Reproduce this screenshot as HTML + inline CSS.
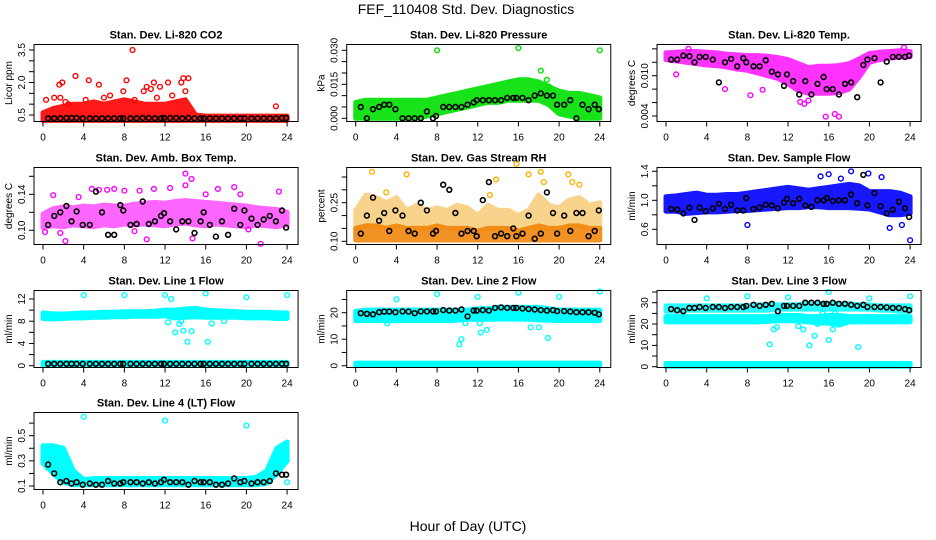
<!DOCTYPE html>
<html><head><meta charset="utf-8"><title>FEF_110408 Std. Dev. Diagnostics</title>
<style>
html,body{margin:0;padding:0;background:#fff;}
svg{display:block;font-family:"Liberation Sans",sans-serif;}
</style></head>
<body>
<svg id="chart" width="936" height="540" viewBox="0 0 936 540" xmlns="http://www.w3.org/2000/svg">
<rect x="0" y="0" width="936" height="540" fill="#fff"/>
<text x="466" y="14" font-size="14" text-anchor="middle">FEF_110408  Std. Dev. Diagnostics</text>
<text x="468" y="531" font-size="14" text-anchor="middle">Hour of Day (UTC)</text>
</svg>
<script>
// ---- shared data ----
const bandHours = [0,1,2,3,4,5,6,7,8,9,10,11,12,13,14,15,16,17,18,19,20,21,22,23,24];
const blkHours = [0.5,1.1,1.7,2.3,2.8,3.3,3.9,4.6,5.2,5.8,6.4,7.0,7.6,7.9,8.6,9.2,9.8,10.4,11.0,11.6,11.9,12.5,13.1,13.7,14.3,14.9,15.5,15.8,16.4,17.0,17.6,18.2,18.8,19.4,19.8,20.5,21.1,21.7,22.3,22.9,23.5,23.9];
const xTicks = [0,4,8,12,16,20,24];

// Panel 1 CO2
const p1BandLo = [0.25,0.25,0.25,0.25,0.25,0.25,0.25,0.25,0.25,0.25,0.25,0.25,0.25,0.25,0.25,0.25,0.25,0.25,0.25,0.25,0.25,0.25,0.25,0.25,0.25];
const p1BandHi = [0.6,0.8,0.9,1.0,1.0,1.1,1.0,1.1,1.2,1.1,1.0,1.0,1.0,1.1,1.2,0.5,0.45,0.45,0.45,0.45,0.45,0.45,0.45,0.45,0.45];
const p1OutX = [0.3,1.1,1.6,1.9,2.2,3.2,4.5,5.5,6.6,7.9,8.2,8.8,9.9,10.2,10.6,10.9,11.5,12.3,12.7,13.6,13.8,14.3,14.0,22.9,1.7,2.5,4.2,6.0,9.0,11.2];
const p1OutY = [1.2,1.3,1.9,2.0,1.1,2.3,2.1,1.9,1.4,1.6,2.1,3.5,1.6,1.8,1.7,2.0,1.8,2.0,1.4,2.0,2.2,2.2,1.6,0.9,1.3,1.0,1.2,1.3,1.2,1.3];
const p1Blk = [0.35,0.35,0.35,0.36,0.36,0.36,0.35,0.35,0.35,0.35,0.35,0.35,0.35,0.35,0.35,0.35,0.36,0.36,0.35,0.35,0.36,0.36,0.36,0.35,0.36,0.35,0.35,0.35,0.35,0.35,0.35,0.35,0.35,0.35,0.35,0.35,0.35,0.35,0.35,0.35,0.36,0.36];

// Panel 2 Pressure
const p2BandLo = [0,0,0,0,0,0,0,0.001,0.002,0.003,0.004,0.005,0.006,0.007,0.007,0.008,0.008,0.008,0.008,0.006,0.002,0.001,0,0,0];
const p2BandHi = [0.007,0.008,0.008,0.008,0.008,0.008,0.008,0.008,0.009,0.010,0.011,0.012,0.013,0.014,0.015,0.016,0.017,0.017,0.016,0.014,0.012,0.011,0.011,0.010,0.009];
const p2OutX = [8,16,24,18.2,18.8,19.0];
const p2OutY = [0.030,0.031,0.030,0.021,0.017,0.014];
const p2Blk = [0.005,0.0,0.004,0.005,0.006,0.006,0.004,0.0,0.0,0.0,0.0,0.003,0.0,0.001,0.005,0.005,0.005,0.005,0.006,0.007,0.008,0.008,0.008,0.008,0.008,0.009,0.009,0.009,0.009,0.008,0.010,0.011,0.010,0.010,0.006,0.006,0.008,0.0,0.006,0.004,0.006,0.004];

// Panel 3 Li-820 Temp
const p3BandLo = [0.0124,0.0122,0.0120,0.0118,0.0116,0.0115,0.0113,0.0110,0.0108,0.0104,0.0100,0.0096,0.0088,0.0078,0.0074,0.0074,0.0074,0.0075,0.0080,0.0098,0.0120,0.0124,0.0126,0.0128,0.0128];
const p3BandHi = [0.0134,0.0135,0.0136,0.0136,0.0135,0.0134,0.0132,0.0131,0.0130,0.0130,0.0129,0.0127,0.0124,0.0118,0.0112,0.0114,0.0114,0.0115,0.0118,0.0125,0.0133,0.0135,0.0136,0.0137,0.0136];
const p3OutX = [5.8,8.3,9.5,13.2,13.6,15.7,16.6,17.0,14.0,1.0,23.4,2.2];
const p3OutY = [0.0080,0.0071,0.0079,0.0061,0.0058,0.0039,0.0043,0.0039,0.0063,0.0102,0.0142,0.0140];
const p3Blk = [0.0124,0.0124,0.0130,0.0129,0.0120,0.0128,0.0128,0.0124,0.0090,0.0120,0.0125,0.0114,0.0126,0.0120,0.0114,0.0114,0.0123,0.0106,0.0102,0.0085,0.0102,0.0092,0.0072,0.0092,0.0072,0.0088,0.0098,0.0080,0.0080,0.0072,0.0088,0.0090,0.0068,0.0116,0.0124,0.0126,0.0090,0.0121,0.0128,0.0128,0.0128,0.0130];

// Panel 4 Amb Box Temp
const p4BandLo = [0.103,0.105,0.104,0.106,0.105,0.104,0.106,0.105,0.107,0.106,0.107,0.106,0.105,0.107,0.108,0.106,0.105,0.107,0.106,0.105,0.104,0.106,0.105,0.104,0.106];
const p4BandHi = [0.118,0.124,0.126,0.125,0.127,0.126,0.128,0.127,0.127,0.129,0.130,0.131,0.130,0.132,0.133,0.132,0.131,0.130,0.129,0.128,0.127,0.125,0.124,0.123,0.120];
const p4OutX = [1.0,2.2,4.8,5.5,6.3,7.0,8.0,9.5,10.9,12.5,14.0,14.0,14.6,16.0,17.2,18.8,19.4,21.4,23.2,10.2,14.7,20.2,3.5,9.0,0.2,1.7];
const p4OutY = [0.139,0.088,0.146,0.145,0.145,0.146,0.144,0.144,0.146,0.147,0.163,0.150,0.157,0.140,0.146,0.148,0.140,0.085,0.143,0.090,0.091,0.101,0.137,0.099,0.098,0.097];
const p4Blk = [0.106,0.116,0.120,0.127,0.110,0.121,0.106,0.106,0.143,0.120,0.095,0.095,0.128,0.122,0.106,0.107,0.132,0.107,0.110,0.116,0.119,0.110,0.101,0.110,0.110,0.097,0.110,0.120,0.106,0.093,0.110,0.095,0.124,0.106,0.122,0.113,0.106,0.112,0.116,0.110,0.122,0.103];

// Panel 5 Gas Stream RH
const p5BandLo = [0.105,0.105,0.105,0.105,0.105,0.105,0.105,0.105,0.105,0.105,0.105,0.105,0.105,0.105,0.105,0.105,0.105,0.105,0.105,0.105,0.105,0.105,0.105,0.105,0.105];
const p5BandMid = [0.15,0.16,0.16,0.15,0.16,0.15,0.15,0.15,0.16,0.15,0.15,0.15,0.14,0.15,0.15,0.15,0.14,0.15,0.16,0.15,0.15,0.16,0.16,0.15,0.15];
const p5BandHi = [0.22,0.28,0.27,0.25,0.27,0.22,0.24,0.22,0.23,0.22,0.24,0.23,0.20,0.24,0.22,0.22,0.20,0.22,0.28,0.24,0.23,0.26,0.27,0.24,0.25];
const p5OutX = [1.6,5.0,13.8,15.8,17.0,18.2,20.9,21.3,22.0,18.5,13.2,3.0];
const p5OutY = [0.37,0.36,0.34,0.40,0.36,0.37,0.36,0.33,0.32,0.33,0.28,0.29];
const p5Blk = [0.13,0.20,0.27,0.18,0.21,0.14,0.22,0.20,0.14,0.13,0.25,0.22,0.13,0.14,0.32,0.30,0.21,0.13,0.14,0.14,0.12,0.26,0.33,0.12,0.13,0.12,0.15,0.12,0.13,0.20,0.11,0.13,0.29,0.21,0.13,0.20,0.14,0.21,0.21,0.12,0.14,0.22];

// Panel 6 Sample Flow
const p6BandLo = [0.85,0.85,0.82,0.83,0.84,0.84,0.85,0.86,0.86,0.87,0.88,0.89,0.90,0.90,0.91,0.91,0.90,0.90,0.90,0.89,0.88,0.84,0.80,0.80,0.82];
const p6BandHi = [1.05,1.06,1.08,1.10,1.07,1.07,1.08,1.08,1.10,1.12,1.14,1.16,1.18,1.16,1.14,1.16,1.18,1.20,1.22,1.20,1.12,1.12,1.12,1.10,1.05];
const p6OutX = [8,22,23.2,24,18.2,19.9,16.0,15.2,21.2,17.2];
const p6OutY = [0.66,0.62,0.66,0.45,1.40,1.37,1.36,1.33,1.32,1.30];
const p6Blk = [0.88,0.87,0.82,0.90,0.73,0.90,0.85,0.89,0.95,0.88,0.94,0.86,0.86,1.03,0.88,0.90,0.94,0.93,0.89,0.97,1.02,0.96,1.02,0.93,0.91,1.00,1.00,1.03,0.99,1.00,1.00,1.08,0.96,1.35,0.93,1.10,0.92,0.82,0.87,0.98,0.89,0.77];

// Panel 7 Line 1 Flow
const p7BandLo = [8.5,8.4,8.5,8.6,8.6,8.7,8.7,8.8,8.8,8.9,8.9,8.9,9.0,8.6,8.7,8.8,8.7,8.7,8.7,8.7,8.6,8.6,8.6,8.5,8.5];
const p7BandHi = [9.5,9.3,9.3,9.4,9.5,9.5,9.6,9.6,9.7,9.7,9.7,9.8,10.0,10.0,10.2,10.3,10.0,9.9,9.8,9.7,9.6,9.6,9.6,9.5,9.5];
const p7Band2Lo = [0.1,0.1,0.1,0.1,0.1,0.1,0.1,0.1,0.1,0.1,0.1,0.1,0.1,0.1,0.1,0.1,0.1,0.1,0.1,0.1,0.1,0.1,0.1,0.1,0.1];
const p7Band2Hi = [0.6,0.6,0.6,0.6,0.6,0.6,0.6,0.6,0.6,0.6,0.6,0.6,0.6,0.6,0.6,0.6,0.6,0.6,0.6,0.6,0.6,0.6,0.6,0.6,0.6];
const p7OutX = [4,8,12,16,20,24,12.6,13.0,13.8,14.2,14.6,16.2,13.4,12.3,16.6,17.8,13.6];
const p7OutY = [12.7,12.7,12.7,13.0,12.3,12.7,12.0,6.0,6.3,4.3,6.2,4.3,7.5,7.8,7.6,8.0,8.0];
const p7Blk = [0.35,0.35,0.35,0.35,0.35,0.35,0.35,0.35,0.35,0.35,0.35,0.35,0.35,0.35,0.35,0.35,0.35,0.35,0.35,0.35,0.35,0.35,0.35,0.35,0.35,0.35,0.35,0.35,0.35,0.35,0.35,0.35,0.35,0.35,0.35,0.35,0.35,0.35,0.35,0.35,0.35,0.35];

// Panel 8 Line 2 Flow
const p8BandLo = [17,17,17,17,17,17,17,17,17,17,17.2,17.5,17.5,17.5,17.6,17.6,17.6,17.5,17.3,17.2,17,17,17,17,17];
const p8BandHi = [20.5,21,21,21,21,21,21,21,21,21,21,21,21.5,21.5,22,22,22,22,22,21.5,21,21,21,21,21];
const p8Band2Lo = [0.2,0.2,0.2,0.2,0.2,0.2,0.2,0.2,0.2,0.2,0.2,0.2,0.2,0.2,0.2,0.2,0.2,0.2,0.2,0.2,0.2,0.2,0.2,0.2,0.2];
const p8Band2Hi = [1,1,1,1,1,1,1,1,1,1,1,1,1,1,1,1,1,1,1,1,1,1,1,1,1];
const p8OutX = [4,8,12,16,20,24,10.2,10.4,12.3,12.2,12.9,17.2,18,18.9,10.8,3.1];
const p8OutY = [25,27,26,27.5,26,28,8,10,12.5,16,13.5,14.5,14.5,10.5,16,16];
const p8Blk = [19.8,19.6,19.4,20.2,20.4,20.4,20.2,20.5,20.4,19.8,20.5,20.5,20.5,20.5,21.0,20.8,20.8,21.2,18.6,20.8,20.8,21.0,20.8,21.8,22.0,21.8,21.8,21.8,21.6,21.4,21.2,21.0,20.8,21.0,20.6,20.6,20.4,20.2,20.2,20.2,20.0,19.4];

// Panel 9 Line 3 Flow
const p9BandLo = [21,21,21,21,21,21,21,21,21,21,21.2,21.5,21.5,21.5,21.0,20.5,20.5,19.5,21,21,21,21,21,21,21];
const p9BandHi = [23.5,23.5,23.5,23.5,23.5,23.5,23.5,23.5,23.5,23.5,23.5,24,24,24,23.5,23.5,24,24,23.5,23.5,23.5,23.5,23.5,23.5,23.5];
const p9Band2Lo = [26,26,26.5,26.5,26.5,26.5,26.5,26.5,26.5,26.5,26.5,27,27,27,27,27,27,27,27,27,27,26.5,26.5,26,26];
const p9Band2Hi = [28.5,28.5,28.5,28.5,28.5,28.5,28.5,28.5,28.5,29,29,29,29,29,29.5,29.5,29.5,29.5,29.5,29,29,28.5,28.5,28.5,28.5];
const p9Band3Lo = [0.2,0.2,0.2,0.2,0.2,0.2,0.2,0.2,0.2,0.2,0.2,0.2,0.2,0.2,0.2,0.2,0.2,0.2,0.2,0.2,0.2,0.2,0.2,0.2,0.2];
const p9Band3Hi = [1.5,1.5,1.5,1.5,1.5,1.5,1.5,1.5,1.5,1.5,1.5,1.5,1.5,1.5,1.5,1.5,1.5,1.5,1.5,1.5,1.5,1.5,1.5,1.5,1.5];
const p9OutX = [4,8,12,16,20,24,10.2,10.6,10.9,13.0,13.5,14.1,14.6,16.0,16.4,18.9,15.2,14.9,16.6,15.4];
const p9OutY = [32,33,32.5,35,32,33,10.5,17.5,18.5,19,17.5,10,14.5,12.5,17.5,9.2,22,20,25,25];
const p9Blk = [27,26.5,26,27.5,27.5,28,27.5,28,28,27.5,28,28,28,28.5,29,28.5,29,29.5,26,28.5,28.5,28.5,28.5,30,30,30,29.5,29.5,30,29.5,29.5,29,28.5,29,28,28,28,27.8,27.5,27.5,27,26.5];

// Panel 10 Line 4 (LT) Flow
const p10BandLo = [0.28,0.20,0.13,0.11,0.11,0.11,0.11,0.11,0.11,0.11,0.11,0.11,0.11,0.11,0.11,0.11,0.11,0.11,0.11,0.11,0.11,0.11,0.12,0.20,0.30];
const p10BandHi = [0.42,0.42,0.40,0.22,0.15,0.16,0.16,0.16,0.16,0.16,0.16,0.16,0.16,0.16,0.16,0.16,0.16,0.16,0.16,0.16,0.16,0.17,0.22,0.40,0.45];
const p10OutX = [4,12,20,24,2.0,1.8];
const p10OutY = [0.65,0.62,0.58,0.13,0.27,0.32];
const p10Blk = [0.27,0.20,0.13,0.14,0.12,0.13,0.11,0.12,0.11,0.11,0.14,0.12,0.12,0.13,0.13,0.13,0.12,0.13,0.12,0.13,0.15,0.13,0.13,0.13,0.11,0.14,0.13,0.13,0.13,0.11,0.11,0.12,0.16,0.13,0.14,0.12,0.13,0.13,0.14,0.20,0.19,0.19];

// ---- layout (not data) ----
const NS = "http://www.w3.org/2000/svg";
const svg = document.getElementById("chart");
const colX0 = [43, 355.7, 666];
const colScale = 10.17;
const rowTop = [44.5, 167.5, 290.5, 412.5];
const boxH = 77;

function mk(tag, attrs, parent) {
  const e = document.createElementNS(NS, tag);
  for (const k in attrs) e.setAttribute(k, attrs[k]);
  (parent || svg).appendChild(e);
  return e;
}

function panel(opt) {
  const g = mk("g", {});
  
  
  const x0 = colX0[opt.col];
  const xs = h => x0 + h * colScale;
  const ys = v => opt.p1 + (v - opt.v1) * (opt.p2 - opt.p1) / (opt.v2 - opt.v1);
  const left = x0 - 9, right = x0 + 24 * colScale + 11;
  const top = rowTop[opt.row], bot = top + boxH;

  opt.bands.forEach((b, bi) => {
    let d = "";
    bandHours.forEach((h, i) => { d += (i ? "L" : "M") + xs(h).toFixed(1) + "," + ys(b.hi[i]).toFixed(1); });
    for (let i = bandHours.length - 1; i >= 0; i--) d += "L" + xs(bandHours[i]).toFixed(1) + "," + ys(b.lo[i]).toFixed(1);
    d += "Z";
    const col = b.color || opt.band;
    const p = mk("path", {d: d, fill: col, stroke: col, "stroke-width": 5, "stroke-linejoin": "round", opacity: b.op || 1}, g);
    
    
  });
  opt.outX.forEach((h, i) => {
    const c = mk("circle", {cx: xs(h).toFixed(1), cy: ys(opt.outY[i]).toFixed(1), r: 2.4, fill: "none", stroke: opt.color, "stroke-width": 1.4}, g);
    
    
  });
  const n = Math.min(blkHours.length, opt.blk.length);
  for (let i = 0; i < n; i++) {
    const c = mk("circle", {cx: xs(blkHours[i]).toFixed(1), cy: ys(opt.blk[i]).toFixed(1), r: 2.4, fill: "none", stroke: "#000", "stroke-width": 1.6}, g);
    
    
  }
  const bx = mk("rect", {x: left, y: top, width: right - left, height: boxH, fill: "none", stroke: "#000", "stroke-width": 1}, g);
  
  
  const t = mk("text", {x: (left + right) / 2, y: top - 6, "font-size": 11, "font-weight": "bold", "text-anchor": "middle"}, g);
  t.textContent = opt.title;
  
  
  xTicks.forEach(h => {
    mk("line", {x1: xs(h), x2: xs(h), y1: bot, y2: bot + 5, stroke: "#000"}, g);
    const tl = mk("text", {x: xs(h), y: bot + 19, "font-size": 10, "text-anchor": "middle"}, g);
    tl.textContent = h;
    
    
  });
  opt.yTicks.forEach(v => {
    const y = ys(v);
    mk("line", {x1: left - 5, x2: left, y1: y, y2: y, stroke: "#000"}, g);
  });
  opt.yLabels.forEach(v => {
    const y = ys(v);
    const tl = mk("text", {x: 0, y: 0, "font-size": 10, "text-anchor": "middle", transform: `translate(${left - 9},${y}) rotate(-90)`}, g);
    tl.textContent = v.toFixed(opt.dec);
    
    
  });
  const yl = mk("text", {x: 0, y: 0, "font-size": 10, "text-anchor": "middle", transform: `translate(${left - 22},${top + boxH / 2}) rotate(-90)`}, g);
  yl.textContent = opt.ylab;
  
  
}

panel({name: "panel-co2", col: 0, row: 0, title: "Stan. Dev. Li-820 CO2", ylab: "Licor ppm", v1: 3.5, p1: 50, v2: 0.5, p2: 115,
  yTicks: [0.5,1.0,1.5,2.0,2.5,3.0,3.5], yLabels: [0.5,2.0,3.5], dec: 1, color: "#ff0000", band: "#ff0000",
  bands: [{lo: p1BandLo, hi: p1BandHi, op: 0.9}], outX: p1OutX, outY: p1OutY, blk: p1Blk});
panel({name: "panel-pressure", col: 1, row: 0, title: "Stan. Dev. Li-820 Pressure", ylab: "kPa", v1: 0.030, p1: 50.3, v2: 0, p2: 118.3,
  yTicks: [0,0.005,0.010,0.015,0.020,0.025,0.030], yLabels: [0,0.015,0.030], dec: 3, color: "#00e000", band: "#00e000",
  bands: [{lo: p2BandLo, hi: p2BandHi, op: 0.9}], outX: p2OutX, outY: p2OutY, blk: p2Blk});
panel({name: "panel-li820-temp", col: 2, row: 0, title: "Stan. Dev. Li-820 Temp.", ylab: "degrees C", v1: 0.010, p1: 75.7, v2: 0.004, p2: 116,
  yTicks: [0.004,0.006,0.008,0.010,0.012,0.014], yLabels: [0.004,0.010], dec: 3, color: "#ff00ff", band: "#ff00ff",
  bands: [{lo: p3BandLo, hi: p3BandHi, op: 0.8}], outX: p3OutX, outY: p3OutY, blk: p3Blk});
panel({name: "panel-amb-box-temp", col: 0, row: 1, title: "Stan. Dev. Amb. Box Temp.", ylab: "degrees C", v1: 0.14, p1: 194.3, v2: 0.10, p2: 230.3,
  yTicks: [0.10,0.12,0.14,0.16], yLabels: [0.10,0.14], dec: 2, color: "#ff00ff", band: "#ff00ff",
  bands: [{lo: p4BandLo, hi: p4BandHi, op: 0.6}], outX: p4OutX, outY: p4OutY, blk: p4Blk});
panel({name: "panel-gas-rh", col: 1, row: 1, title: "Stan. Dev. Gas Stream RH", ylab: "percent", v1: 0.25, p1: 202.7, v2: 0.10, p2: 241.3,
  yTicks: [0.10,0.15,0.20,0.25,0.30,0.35], yLabels: [0.10,0.25], dec: 2, color: "#ffb000", band: "#f0a000",
  bands: [{lo: p5BandMid, hi: p5BandHi, op: 0.45}, {lo: p5BandLo, hi: p5BandMid, op: 0.85, color: "#f08000"}], outX: p5OutX, outY: p5OutY, blk: p5Blk});
panel({name: "panel-sample-flow", col: 2, row: 1, title: "Stan. Dev. Sample Flow", ylab: "ml/min", v1: 1.4, p1: 171.3, v2: 0.6, p2: 229.3,
  yTicks: [0.6,0.8,1.0,1.2,1.4], yLabels: [0.6,1.0,1.4], dec: 1, color: "#0000ff", band: "#0000ff",
  bands: [{lo: p6BandLo, hi: p6BandHi, op: 0.9}], outX: p6OutX, outY: p6OutY, blk: p6Blk});
panel({name: "panel-line1-flow", col: 0, row: 2, title: "Stan. Dev. Line 1 Flow", ylab: "ml/min", v1: 12, p1: 299, v2: 0, p2: 365.7,
  yTicks: [0,2,4,6,8,10,12], yLabels: [0,4,8,12], dec: 0, color: "#00ffff", band: "#00ffff",
  bands: [{lo: p7BandLo, hi: p7BandHi}, {lo: p7Band2Lo, hi: p7Band2Hi}], outX: p7OutX, outY: p7OutY, blk: p7Blk});
panel({name: "panel-line2-flow", col: 1, row: 2, title: "Stan. Dev. Line 2 Flow", ylab: "ml/min", v1: 20, p1: 312.7, v2: 0, p2: 365.7,
  yTicks: [0,5,10,15,20,25], yLabels: [0,10,20], dec: 0, color: "#00ffff", band: "#00ffff",
  bands: [{lo: p8BandLo, hi: p8BandHi}, {lo: p8Band2Lo, hi: p8Band2Hi}], outX: p8OutX, outY: p8OutY, blk: p8Blk});
panel({name: "panel-line3-flow", col: 2, row: 2, title: "Stan. Dev. Line 3 Flow", ylab: "ml/min", v1: 30, p1: 302.7, v2: 0, p2: 366.7,
  yTicks: [0,5,10,15,20,25,30,35], yLabels: [0,10,20,30], dec: 0, color: "#00ffff", band: "#00ffff",
  bands: [{lo: p9BandLo, hi: p9BandHi}, {lo: p9Band2Lo, hi: p9Band2Hi, op: 0.85}, {lo: p9Band3Lo, hi: p9Band3Hi}], outX: p9OutX, outY: p9OutY, blk: p9Blk});
panel({name: "panel-line4-flow", col: 0, row: 3, title: "Stan. Dev. Line 4 (LT) Flow", ylab: "ml/min", v1: 0.5, p1: 435.7, v2: 0.1, p2: 486,
  yTicks: [0.1,0.2,0.3,0.4,0.5,0.6], yLabels: [0.1,0.3,0.5], dec: 1, color: "#00ffff", band: "#00ffff",
  bands: [{lo: p10BandLo, hi: p10BandHi}], outX: p10OutX, outY: p10OutY, blk: p10Blk});
</script>
</body></html>
